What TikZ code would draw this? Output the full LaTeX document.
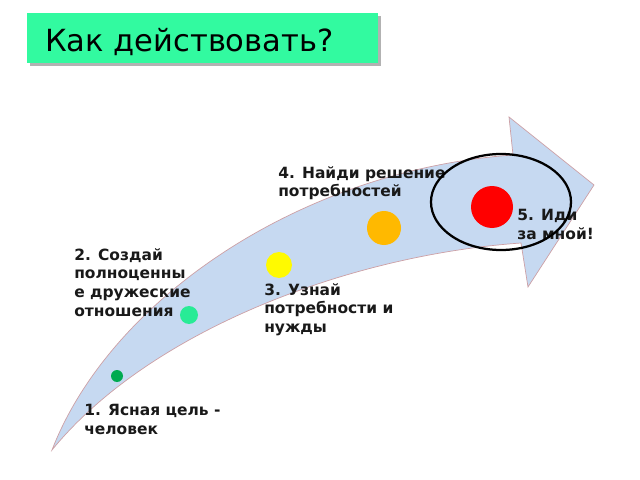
\documentclass[tikz,border=0pt]{standalone}
\usepackage{fontspec}
\setmainfont{DejaVu Sans}
\definecolor{arrowfill}{RGB}{198,217,241}
\definecolor{arrowline}{RGB}{205,160,165}
\definecolor{titlegreen}{RGB}{50,250,160}
\definecolor{dotone}{RGB}{0,170,80}
\definecolor{dottwo}{RGB}{40,235,150}
\definecolor{dotthree}{RGB}{255,250,0}
\definecolor{dotfour}{RGB}{255,185,0}
\definecolor{dotfive}{RGB}{255,0,0}
\begin{document}
\begin{tikzpicture}[x=0.025cm,y=-0.025cm,
  lbl/.style={anchor=north west,inner sep=0pt,align=left,
    font=\bfseries\fontsize{11}{13.3}\selectfont,text=black!90},
  dotstyle/.style={circle,inner sep=0pt}]
\useasboundingbox (0,0) rectangle (640,480);
% title
\fill[black!30] (30,16) rectangle (381,66);
\node[fill=titlegreen,minimum width=351*0.025cm,minimum height=50*0.025cm,anchor=north west,inner sep=0pt] (titlebox) at (27,13) {};
\node[anchor=base west,inner sep=0pt,font=\fontsize{21.7}{25}\selectfont] (title) at (45,51) {Как действовать?};
% arrow
\draw[fill=arrowfill,draw=arrowline,line width=0.5pt]
  (52,450) .. controls (110,300) and (300,170) .. (513,155)
  -- (509,117) -- (594,185) -- (528,287) -- (521,243)
  .. controls (350,255) and (150,330) .. (52,450) -- cycle;
% dots
\node[dotstyle,fill=dotone,minimum size=12*0.025cm] (d1) at (117,376) {};
\node[dotstyle,fill=dottwo,minimum size=18*0.025cm] (d2) at (189,315) {};
\node[dotstyle,fill=dotthree,minimum size=26*0.025cm] (d3) at (279,265) {};
\node[dotstyle,fill=dotfour,minimum size=34*0.025cm] (d4) at (384,228) {};
\node[dotstyle,fill=dotfive,minimum size=42*0.025cm] (d5) at (492,207) {};
% labels
\node[lbl] (l1) at (84,404) {1. Ясная цель -\\человек};
\node[lbl] (l2) at (74,248) {2. Создай\\полноценны\\е дружеские\\отношения};
\node[lbl] (l3) at (264,283) {3. Узнай\\потребности и\\нужды};
\node[lbl] (l4) at (278,166) {4. Найди решение\\потребностей};
\node[lbl] (l5) at (517,209) {5. Иди\\за мной!};
% ellipse
\draw[line width=1.6pt] (501,202) ellipse [x radius=70,y radius=48];
\end{tikzpicture}
\end{document}
